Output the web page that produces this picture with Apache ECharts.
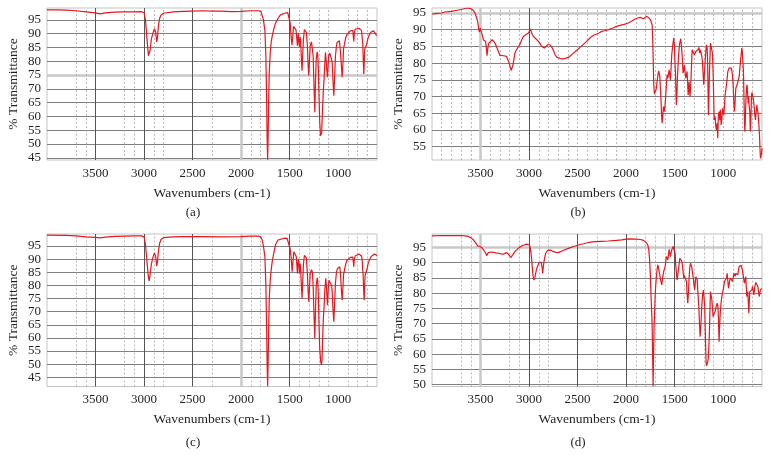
<!DOCTYPE html>
<html>
<head>
<meta charset="utf-8">
<script src="https://cdn.jsdelivr.net/npm/echarts@6/dist/echarts.min.js"></script>
<style>html,body{margin:0;padding:0;background:#fff}#c{width:770px;height:470px}</style>
</head>
<body>
<div id="c"></div>
<script>
// ---- Data ----
const xTickLabels = [3500, 3000, 2500, 2000, 1500, 1000];
const yTicksA = [45, 50, 55, 60, 65, 70, 75, 80, 85, 90, 95];
const yTicksB = [55, 60, 65, 70, 75, 80, 85, 90, 95];
const yTicksC = [45, 50, 55, 60, 65, 70, 75, 80, 85, 90, 95];
const yTicksD = [50, 55, 60, 65, 70, 75, 80, 85, 90, 95];

const specA = [[4000,98.6],[3900,98.6],[3800,98.5],[3700,98.3],[3600,97.9],[3500,97.5],[3450,97.2],[3400,97.5],[3300,97.8],[3200,97.9],[3100,97.9],[3030,98],[3000,97.6],[2985,95],[2970,88],[2955,82],[2948,81.4],[2938,84],[2925,88],[2910,90],[2893,91.8],[2880,90.5],[2870,87],[2862,88.5],[2852,92.8],[2840,95.5],[2825,96.8],[2800,97.4],[2700,97.9],[2600,98.1],[2500,98.2],[2400,98.3],[2300,98.2],[2200,98.2],[2100,98],[2000,98.1],[1900,98.3],[1820,98.3],[1795,98],[1784,97.3],[1770,95],[1755,91],[1745,82],[1738,68],[1732,52],[1727,44.3],[1722,52],[1716,66],[1710,76],[1700,83],[1690,87],[1680,89],[1665,91.5],[1646,93.8],[1620,95.5],[1595,96.8],[1560,97.3],[1520,97.6],[1505,97.2],[1495,94],[1485,89],[1476,85.8],[1468,89],[1460,92.6],[1445,92.8],[1435,91.5],[1428,89],[1420,85.6],[1412,90.2],[1405,89.5],[1399,85],[1392,88.8],[1386,87],[1378,80],[1372,76.6],[1366,82],[1358,88],[1348,91.5],[1337,91.9],[1328,90.5],[1318,86],[1310,79],[1303,74.8],[1296,80],[1288,85.6],[1275,87],[1266,86.5],[1258,82],[1250,72],[1241,61.5],[1234,72],[1226,81],[1216,83.4],[1211,82.5],[1205,78],[1198,68],[1190,58],[1182,53],[1176,52.5],[1170,54],[1162,62],[1152,70],[1145,73.6],[1138,79],[1131,83.2],[1125,81],[1118,77],[1110,74.2],[1103,79],[1097,82],[1088,83],[1079,82.6],[1070,81],[1062,79.6],[1055,74],[1045,67.5],[1038,73],[1028,82],[1018,85.5],[1011,86.8],[1000,87.4],[987,87.4],[978,84],[970,80],[959,74.2],[950,80],[945,84.4],[932,86.8],[920,88.8],[908,89.8],[890,90.5],[873,91],[855,91.4],[849,91.2],[844,89],[839,87.2],[834,90],[825,91.6],[805,91.9],[785,91.9],[770,91.6],[760,91.2],[752,88.5],[746,86],[741,80],[736,75.4],[731,80],[726,84.4],[718,84.8],[708,86],[695,88],[684,89.2],[665,90.5],[650,91],[635,91],[622,90.6],[612,89.8],[605,89.2],[600,89.5]];

const specB = [[4000,94.7],[3950,94.9],[3900,95],[3866,95.3],[3800,95.5],[3729,95.9],[3680,96.2],[3643,96.5],[3598,96.3],[3575,95.8],[3557,95],[3540,93.5],[3530,92.5],[3520,90.5],[3512,89.3],[3503,90.5],[3495,90.7],[3485,90.3],[3478,88],[3471,87],[3460,86.6],[3447,86.5],[3440,84.5],[3433,82.2],[3425,84.5],[3415,86],[3402,86.5],[3378,87],[3351,86],[3330,84.5],[3316,83.5],[3300,82.3],[3282,81.8],[3260,82.2],[3248,82.3],[3232,82],[3220,81.5],[3205,80],[3196,79],[3185,77.8],[3179,78],[3170,79],[3162,80],[3150,82.3],[3145,83],[3130,84],[3117,84.5],[3093,85.7],[3075,87],[3059,88],[3030,88.6],[3007,89],[2995,89.6],[2987,90.2],[2978,89.5],[2966,88.5],[2950,87.8],[2938,87.5],[2920,87],[2904,86.5],[2885,85.8],[2870,85],[2855,84.6],[2842,84.5],[2825,85],[2808,85.5],[2784,85.5],[2770,85],[2760,84.5],[2745,83.5],[2732,82.5],[2715,81.8],[2698,81.5],[2670,81.3],[2646,81.3],[2620,81.5],[2595,81.7],[2570,82.3],[2543,83],[2510,83.8],[2475,84.7],[2440,85.6],[2406,86.5],[2380,87.3],[2354,88],[2330,88.4],[2303,88.7],[2280,89],[2251,89.5],[2220,89.7],[2182,90],[2160,90.3],[2131,90.6],[2100,91],[2062,91.3],[2020,91.6],[1976,92],[1940,92.6],[1908,93.2],[1880,93.5],[1856,93.7],[1840,93.4],[1822,93.3],[1805,93.8],[1791,94],[1778,93.7],[1767,93.6],[1750,93],[1740,92.5],[1732,91.5],[1726,87],[1722,82.5],[1718,77],[1715,73.5],[1708,70.7],[1700,70.6],[1695,71],[1688,72.5],[1681,74.5],[1672,76.5],[1664,77.7],[1658,77.2],[1653,76],[1646,72],[1640,68.5],[1634,64],[1629,62],[1622,64.5],[1615,67],[1610,67.5],[1605,65.5],[1600,67],[1595,69],[1585,73.5],[1578,76.5],[1570,75.5],[1563,76.8],[1557,78],[1550,76.5],[1543,75],[1536,79],[1530,82.5],[1519,85.5],[1509,87.5],[1502,85],[1497,80],[1492,77.5],[1486,71],[1482,67.5],[1476,71],[1471,76],[1461,81.5],[1451,85.5],[1437,87.3],[1430,85],[1423,82.5],[1413,77],[1406,78],[1399,79.5],[1392,77],[1385,75.5],[1378,76],[1372,77.5],[1366,74],[1361,70.5],[1356,72],[1351,74.5],[1346,72],[1341,70],[1335,73],[1330,76.5],[1325,80],[1320,84],[1310,84.5],[1303,83.5],[1296,82.5],[1289,83],[1282,83.5],[1275,83.3],[1269,83],[1260,84],[1251,84.7],[1246,84],[1241,83],[1234,84],[1228,83.8],[1220,82],[1214,80.5],[1207,77],[1200,73.5],[1193,77],[1186,80.5],[1179,83.5],[1172,85.5],[1165,84.5],[1160,80],[1156,72],[1152,64.5],[1147,70],[1141,77.5],[1136,82],[1131,86],[1124,86.3],[1117,86.5],[1111,83],[1104,77.5],[1098,70],[1093,63],[1088,62.5],[1083,64],[1076,61],[1069,60],[1062,62],[1056,57.5],[1050,64],[1042,65.5],[1035,63],[1028,66],[1021,61.5],[1014,63],[1007,66.5],[1000,65.5],[994,64.5],[987,67],[980,70.5],[966,73.5],[952,77.5],[940,78.5],[932,79],[922,79],[915,78.5],[905,76.5],[897,73.5],[890,68],[884,65.5],[877,68.5],[870,72.5],[863,73],[856,73.5],[849,73],[842,73.2],[835,76],[828,78.5],[822,80.5],[815,82.5],[808,84.5],[803,83.5],[797,80.5],[791,77.5],[786,70],[781,63],[777,59.5],[773,62],[768,67],[763,70.5],[758,72.8],[753,73.5],[748,71],[743,68],[737,70],[732,67],[726,65.5],[722,61],[719,59.5],[715,63],[711,67],[708,70.5],[702,71.2],[695,71],[688,69],[681,67],[674,64.5],[667,63],[660,65.5],[653,67.5],[647,66],[640,65],[633,62],[626,58.5],[620,54],[616,51.5],[610,52],[605,53],[600,54.5]];

const specC = [[4000,99.2],[3800,99.1],[3700,98.9],[3600,98.5],[3500,98.3],[3450,98.1],[3400,98.4],[3300,98.7],[3200,98.8],[3100,98.9],[3030,98.9],[3000,98.5],[2985,95.5],[2970,89],[2955,83],[2947,81.7],[2937,84.5],[2925,88],[2910,90.5],[2893,92.4],[2880,91],[2870,87.4],[2862,89],[2852,93],[2840,96],[2825,97.5],[2800,98.2],[2700,98.5],[2600,98.6],[2400,98.6],[2200,98.5],[2000,98.6],[1900,98.8],[1820,98.8],[1795,98.4],[1784,97.5],[1770,95],[1755,91],[1745,80],[1738,66],[1732,50],[1727,41.6],[1722,50],[1716,64],[1710,75],[1700,82],[1690,86],[1680,89],[1665,92],[1646,95.5],[1620,97.3],[1600,97.9],[1550,98],[1526,97.9],[1510,97.2],[1495,94],[1485,90.9],[1474,85.2],[1466,89],[1457,92.8],[1440,93],[1432,91],[1426,88],[1420,84.6],[1412,90],[1405,89],[1399,84.6],[1392,88.3],[1386,86],[1378,79],[1372,75],[1366,81],[1358,88],[1348,91.5],[1337,92.2],[1328,90.5],[1318,85],[1310,78],[1303,73.8],[1296,79],[1288,84.6],[1275,86],[1266,85.2],[1258,80],[1250,70],[1241,59.8],[1234,70],[1226,80],[1216,82.9],[1211,82],[1205,77],[1198,66],[1190,56],[1180,51],[1172,49.7],[1166,52],[1160,60],[1152,68],[1145,71.9],[1138,78],[1128,82.7],[1122,80],[1116,76],[1110,72.5],[1103,78],[1095,82],[1085,82.5],[1076,82.7],[1068,80],[1062,78],[1055,72],[1045,66.2],[1038,72],[1028,81],[1018,85],[1007,86.5],[995,87.2],[983,87.1],[976,84],[968,79],[959,74.4],[950,80],[945,84],[932,86.5],[920,88.5],[908,89.7],[890,90.3],[873,90.7],[855,91],[849,90.8],[844,89],[839,87.1],[834,90],[825,91.2],[805,91.6],[785,92],[770,91.6],[760,91.2],[753,90],[747,86],[743,84],[737,78],[732,74.4],[727,80],[722,84],[715,84.6],[705,86],[690,88.5],[678,89.7],[660,91],[643,91.6],[625,92],[616,92],[605,91.5],[600,91.3]];

const specD = [[4000,98.8],[3900,98.9],[3832,98.9],[3750,98.9],[3694,98.9],[3660,98.8],[3626,98.6],[3600,98.2],[3574,97.5],[3550,96.5],[3530,95.5],[3505,95.3],[3490,95.2],[3481,94.7],[3465,94],[3454,93.6],[3445,93],[3437,92.3],[3430,92.8],[3420,93.3],[3395,93.5],[3368,93.4],[3340,93.2],[3316,93.1],[3290,92.9],[3265,92.8],[3245,93.1],[3231,93.3],[3215,93],[3205,92.5],[3196,92],[3185,91.7],[3179,91.8],[3170,92.5],[3162,93.1],[3145,93.7],[3127,94.2],[3100,95],[3076,95.5],[3050,95.8],[3024,96.1],[3005,96],[2997,95.8],[2988,95],[2980,93.1],[2972,90.5],[2966,88.2],[2958,85.5],[2949,84.3],[2940,85],[2932,86.5],[2922,88],[2914,88.7],[2900,89.8],[2894,90],[2886,89.5],[2880,89.3],[2874,90.2],[2870,90.4],[2864,88],[2860,86.5],[2855,88],[2849,89.8],[2840,91.5],[2829,93.1],[2810,94],[2794,94.4],[2775,94.1],[2750,93.6],[2720,93.4],[2698,93.3],[2650,94],[2595,94.7],[2540,95.3],[2492,95.8],[2440,96.2],[2389,96.6],[2350,96.8],[2320,96.9],[2250,97],[2183,97.1],[2100,97.3],[2045,97.5],[2000,97.7],[1976,97.8],[1900,97.7],[1853,97.6],[1820,97.3],[1801,96.9],[1790,96.5],[1777,95.8],[1768,94.5],[1760,92],[1750,86],[1743,78.9],[1737,74],[1732,69.6],[1727,60],[1722,49.5],[1717,60],[1712,69],[1706,74],[1701,78.9],[1695,82.5],[1688,85.4],[1680,88],[1674,89.3],[1667,88.5],[1660,87.1],[1650,86.5],[1642,84],[1633,82.7],[1626,84.5],[1619,86],[1610,87.5],[1598,88.7],[1590,90.8],[1585,92],[1578,91.5],[1571,90.9],[1564,92.5],[1557,94.4],[1550,93],[1543,92],[1536,93.3],[1530,94.2],[1516,95.3],[1502,95.6],[1495,93],[1488,89],[1480,86],[1475,84.3],[1468,86],[1461,87.6],[1454,89.5],[1447,91.4],[1433,91.8],[1427,90.5],[1420,89.3],[1413,87],[1406,84.9],[1399,85.8],[1392,85],[1385,84.5],[1378,83.8],[1372,80],[1365,76.7],[1358,80],[1351,85],[1344,88.5],[1337,89.8],[1330,89.5],[1323,88.5],[1317,87],[1310,85.4],[1300,82.5],[1293,81.1],[1287,83.5],[1282,85.4],[1275,86],[1268,84.5],[1260,80],[1251,75.6],[1244,70],[1237,65.7],[1230,69],[1224,73.4],[1217,77.5],[1210,80],[1203,81],[1196,81.1],[1191,76],[1186,70.1],[1181,63],[1176,57],[1170,56.2],[1165,55.9],[1160,56.5],[1155,58.1],[1148,62],[1141,68],[1136,75],[1131,80.5],[1124,80],[1117,78],[1110,75],[1104,72.3],[1097,73],[1090,73.4],[1083,74],[1076,75.1],[1069,76],[1062,76.7],[1055,76],[1049,72],[1046,68],[1042,64.1],[1038,68],[1033,72],[1028,74.5],[1021,77],[1014,78.9],[1007,80],[1000,81.1],[993,82.5],[987,83.8],[980,83.5],[973,83.2],[966,85],[959,86.5],[952,84],[945,81.6],[938,83],[932,84.3],[925,85],[918,85.4],[911,84.5],[904,83.8],[897,85],[890,86.5],[883,86.2],[877,85.5],[870,86.5],[863,87.1],[856,86.5],[849,86],[842,87.5],[836,88.7],[829,89],[822,89.3],[815,89.1],[808,88.9],[801,87.5],[794,86],[788,84.5],[781,83.3],[774,84.5],[767,85.4],[762,82],[757,78.9],[752,79.5],[747,80.5],[741,77],[736,73.4],[731,77],[726,80.5],[719,80.2],[712,80],[705,81],[698,82.2],[691,81],[684,79.4],[678,81],[671,82.7],[664,83.5],[657,83.8],[650,83.3],[643,82.2],[636,80.5],[629,78.9],[622,80],[616,81.1],[609,81.4],[602,81.6],[600,81.7]];

// grid-line positions (wavenumbers) per panel
const minorAC = [3700, 3600, 3200, 3100, 2900, 2800, 2300, 1900, 1800, 1400, 1300, 1200, 1100, 900, 800, 700];
const majorAC = [3500, 3000, 2500, 1500];
const thickAC = [2000];
const minorB = [3900, 3800, 3700, 3600, 3400, 3300, 3200, 3100, 2900, 2800, 2700, 2600, 2500, 2400, 2300, 2200, 2100, 2000, 1900, 1800, 1700, 1600, 1500, 1400, 1300, 1200, 1100, 1000, 900, 800, 700];
const majorB = [3000];
const thickB = [3500];
const minorD = [3700, 3600, 3200, 3100, 2900, 2800, 2300, 1900, 1800, 1700, 1600, 1400, 1300, 1200, 1100, 1000, 900, 800, 700];
const majorD = [3000, 2500, 2000, 1500];
const thickD = [3500];

// ---- Styling ----
const FONT = '"Liberation Serif", "DejaVu Serif", serif';
const TEXT = '#231f20';
const RED = '#e8161d';
const minorStyle = { color: '#a8a8a8', width: 0.8, type: [2, 2] };
const majorStyle = { color: '#555', width: 1, type: 'solid' };
const thickStyle = { color: '#c8c8c8', width: 2.5, type: 'solid' };
const hStyle = { color: '#808080', width: 1, type: 'solid' };

const panels = [
  { spec: specA, grid: { left: 47, top: 8, width: 330, height: 152 }, ymin: 44.2, ymax: 99.3, yTicks: yTicksA,
    minor: minorAC, major: majorAC, thick: thickAC, hThick: [75], cap: '(a)', cx: 193, cy: 213 },
  { spec: specB, grid: { left: 432, top: 8, width: 330, height: 152 }, ymin: 51, ymax: 96.5, yTicks: yTicksB,
    minor: minorB, major: majorB, thick: thickB, hThick: [95], cap: '(b)', cx: 578, cy: 213 },
  { spec: specC, grid: { left: 47, top: 234, width: 330, height: 152.5 }, ymin: 41.5, ymax: 99.6, yTicks: yTicksC,
    minor: minorAC, major: majorAC, thick: thickAC, hThick: [], cap: '(c)', cx: 193, cy: 443 },
  { spec: specD, grid: { left: 432, top: 234, width: 330, height: 152.5 }, ymin: 49.4, ymax: 99.4, yTicks: yTicksD,
    minor: minorD, major: majorD, thick: thickD, hThick: [95], cap: '(d)', cx: 578, cy: 443 }
];

const grids = [], xAxes = [], yAxes = [], series = [], graphics = [];
panels.forEach((p, i) => {
  grids.push(Object.assign({ show: true, borderColor: '#c4c4c4', borderWidth: 1, backgroundColor: '#fff' }, p.grid));
  xAxes.push({
    type: 'value', gridIndex: i, inverse: true, min: 600, max: 4000,
    axisLine: { show: false }, axisTick: { show: false }, splitLine: { show: false },
    axisLabel: { customValues: xTickLabels, formatter: v => String(v), color: TEXT, fontFamily: FONT, fontSize: 13, margin: 7 },
    name: 'Wavenumbers (cm-1)', nameLocation: 'middle', nameGap: 26,
    nameTextStyle: { color: TEXT, fontFamily: FONT, fontSize: 13.5 }
  });
  yAxes.push({
    type: 'value', gridIndex: i, min: p.ymin, max: p.ymax,
    axisLine: { show: false }, axisTick: { show: false }, splitLine: { show: false },
    axisLabel: { customValues: p.yTicks, formatter: v => String(v), color: TEXT, fontFamily: FONT, fontSize: 13, margin: 6 },
    name: '% Transmittance', nameLocation: 'middle', nameGap: 27,
    nameTextStyle: { color: TEXT, fontFamily: FONT, fontSize: 13.5 }
  });
  const ml = [];
  p.yTicks.forEach(v => ml.push({ yAxis: v, lineStyle: p.hThick.includes(v) ? thickStyle : hStyle }));
  p.minor.forEach(v => ml.push({ xAxis: v, lineStyle: minorStyle }));
  p.major.forEach(v => ml.push({ xAxis: v, lineStyle: majorStyle }));
  p.thick.forEach(v => ml.push({ xAxis: v, lineStyle: thickStyle }));
  series.push({
    type: 'line', xAxisIndex: i, yAxisIndex: i, data: [], z: 1, silent: true,
    markLine: { silent: true, symbol: ['none', 'none'], label: { show: false }, animation: false,
      emphasis: { disabled: true }, data: ml }
  });
  series.push({
    type: 'line', xAxisIndex: i, yAxisIndex: i, data: p.spec, z: 5, showSymbol: false, symbol: 'none',
    clip: true, silent: true, lineStyle: { color: RED, width: 1.2 }, emphasis: { disabled: true }
  });
  graphics.push({ type: 'text', x: p.cx, y: p.cy,
    style: { text: p.cap, textAlign: 'center', textVerticalAlign: 'middle', fill: TEXT, font: '13px ' + FONT } });
});

const chart = echarts.init(document.getElementById('c'));
chart.setOption({
  animation: false,
  backgroundColor: '#fff',
  grid: grids, xAxis: xAxes, yAxis: yAxes, series: series, graphic: graphics
});
</script>
</body>
</html>
